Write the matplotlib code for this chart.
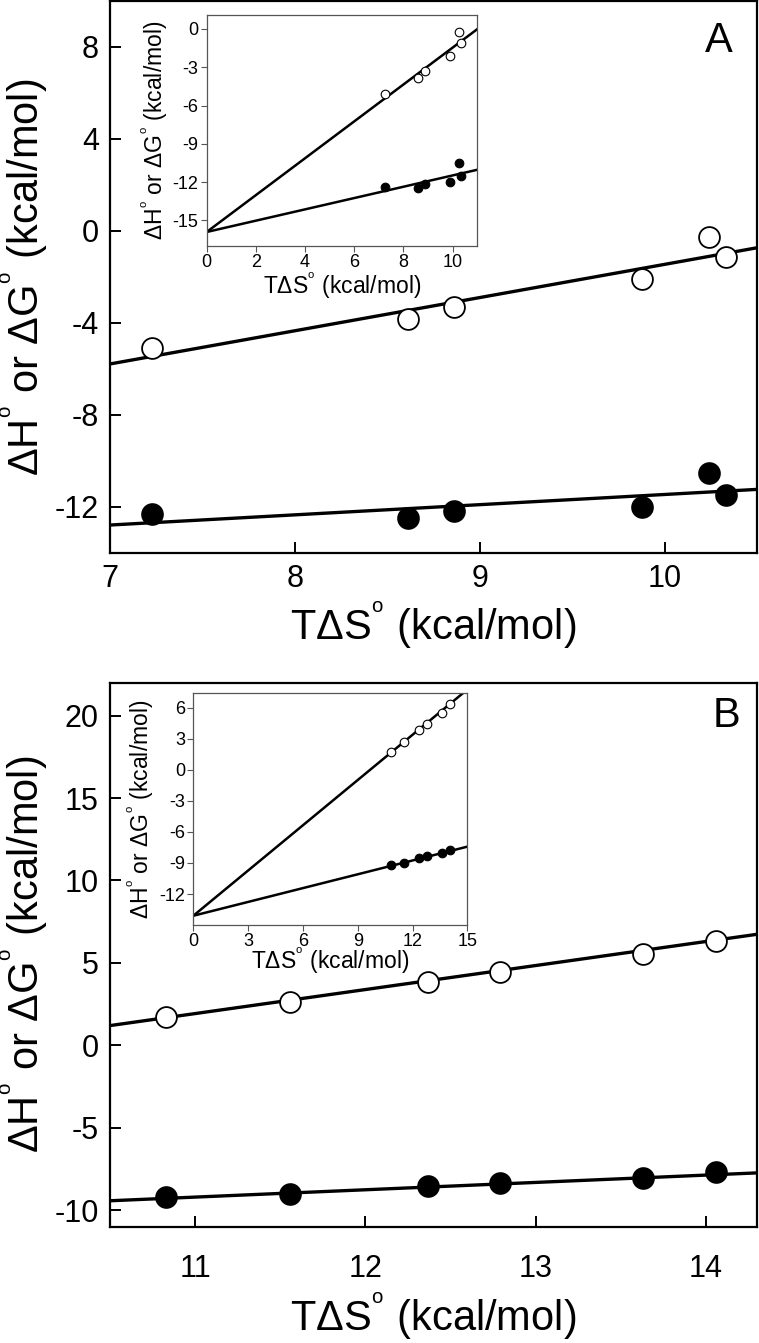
import numpy as np
import matplotlib.pyplot as plt

plt.rcParams['font.family'] = 'Liberation Sans'
plt.rcParams['mathtext.fontset'] = 'custom'
plt.rcParams['mathtext.rm'] = 'Liberation Sans'
plt.rcParams['axes.unicode_minus'] = False

# panel A data (T dS, dG open / dH filled), kcal/mol
tds_a = [7.23, 8.61, 8.86, 9.88, 10.24, 10.33]
dg_a = [-5.10, -3.85, -3.30, -2.11, -0.27, -1.13]
dh_a = [-12.34, -12.49, -12.18, -12.01, -10.52, -11.48]
# fitted lines: common intercept, two slopes
fit_a_icpt = -15.9
fit_a_open = 1.444
fit_a_fill = 0.443

# panel B data
tds_b = [10.83, 11.56, 12.37, 12.79, 13.63, 14.06]
dg_b = [1.69, 2.64, 3.84, 4.44, 5.53, 6.32]
dh_b = [-9.21, -8.99, -8.53, -8.37, -8.04, -7.71]
fit_b_icpt = -14.1
fit_b_open = 1.457
fit_b_fill = 0.445

sup = r'$^{{}^{\rm o}}$'
ylab = r'$\Delta$H' + sup + r' or $\Delta$G' + sup + ' (kcal/mol)'
xlab = r'T$\Delta$S' + sup + ' (kcal/mol)'


def mainPanel(ax, tds, dg, dh, icpt, s_open, s_fill, xlim, ylim, xticks, yticks, letter, lpos):
    xx = np.array(xlim)
    ax.plot(xx, icpt + s_open * xx, color='black', lw=2.4, zorder=2)
    ax.plot(xx, icpt + s_fill * xx, color='black', lw=2.4, zorder=2)
    ax.plot(tds, dg, 'o', ms=15, mfc='white', mec='black', mew=1.3, zorder=3)
    ax.plot(tds, dh, 'o', ms=15, mfc='black', mec='black', mew=1.3, zorder=3)
    ax.set_xlim(xlim)
    ax.set_ylim(ylim)
    ax.set_xticks(xticks)
    ax.set_yticks(yticks)
    ax.tick_params(direction='in', length=8, width=1.4, labelsize=22, pad=8)
    for sp in ax.spines.values():
        sp.set_linewidth(1.6)
    ax.set_ylabel(ylab, fontsize=30)
    ax.yaxis.set_label_coords(-0.092, 0.5)
    ax.set_xlabel(xlab, fontsize=30)
    ax.text(lpos[0], lpos[1], letter, transform=ax.transAxes, ha='center', va='center', fontsize=30)


def insetPanel(ax, tds, dg, dh, icpt, s_open, s_fill, xlim, ylim, xticks, yticks, lpad):
    xx = np.array(xlim)
    ax.plot(xx, icpt + s_open * xx, color='black', lw=1.8, zorder=2)
    ax.plot(xx, icpt + s_fill * xx, color='black', lw=1.8, zorder=2)
    ax.plot(tds, dg, 'o', ms=6.2, mfc='white', mec='black', mew=0.8, zorder=3)
    ax.plot(tds, dh, 'o', ms=6.2, mfc='black', mec='black', mew=0.8, zorder=3)
    ax.set_xlim(xlim)
    ax.set_ylim(ylim)
    ax.set_xticks(xticks)
    ax.set_yticks(yticks)
    ax.tick_params(direction='out', length=4, width=0.8, labelsize=13, pad=2, color='#555555')
    for sp in ax.spines.values():
        sp.set_linewidth(0.9)
        sp.set_color('#555555')
    ax.set_ylabel(ylab, fontsize=16.5, labelpad=2)
    ax.set_xlabel(xlab, fontsize=16.5, labelpad=lpad)


fig = plt.figure(figsize=(7.59, 13.43), dpi=100)

axA = fig.add_axes([0.1449, 0.5885, 0.8524, 0.4108])
mainPanel(axA, tds_a, dg_a, dh_a, fit_a_icpt, fit_a_open, fit_a_fill,
          (7, 10.5), (-14, 10), [7, 8, 9, 10], [-12, -8, -4, 0, 4, 8], 'A', (0.941, 0.927))
axA.xaxis.labelpad = 4

insA = fig.add_axes([0.2723, 0.8168, 0.3565, 0.1721])
insetPanel(insA, tds_a, dg_a, dh_a, fit_a_icpt, fit_a_open, fit_a_fill,
           (0, 11), (-17, 1.1), [0, 2, 4, 6, 8, 10], [-15, -12, -9, -6, -3, 0], -1)

axB = fig.add_axes([0.1449, 0.0866, 0.8524, 0.4051])
mainPanel(axB, tds_b, dg_b, dh_b, fit_b_icpt, fit_b_open, fit_b_fill,
          (10.5, 14.3), (-11, 22), [11, 12, 13, 14], [-10, -5, 0, 5, 10, 15, 20], 'B', (0.953, 0.938))
axB.tick_params(axis='x', pad=20)
axB.xaxis.labelpad = 4

insB = fig.add_axes([0.2547, 0.3112, 0.3610, 0.1730])
insetPanel(insB, tds_b, dg_b, dh_b, fit_b_icpt, fit_b_open, fit_b_fill,
           (0, 15), (-15, 7.45), [0, 3, 6, 9, 12, 15], [-12, -9, -6, -3, 0, 3, 6], -4)

fig.savefig('out.png', dpi=100)
